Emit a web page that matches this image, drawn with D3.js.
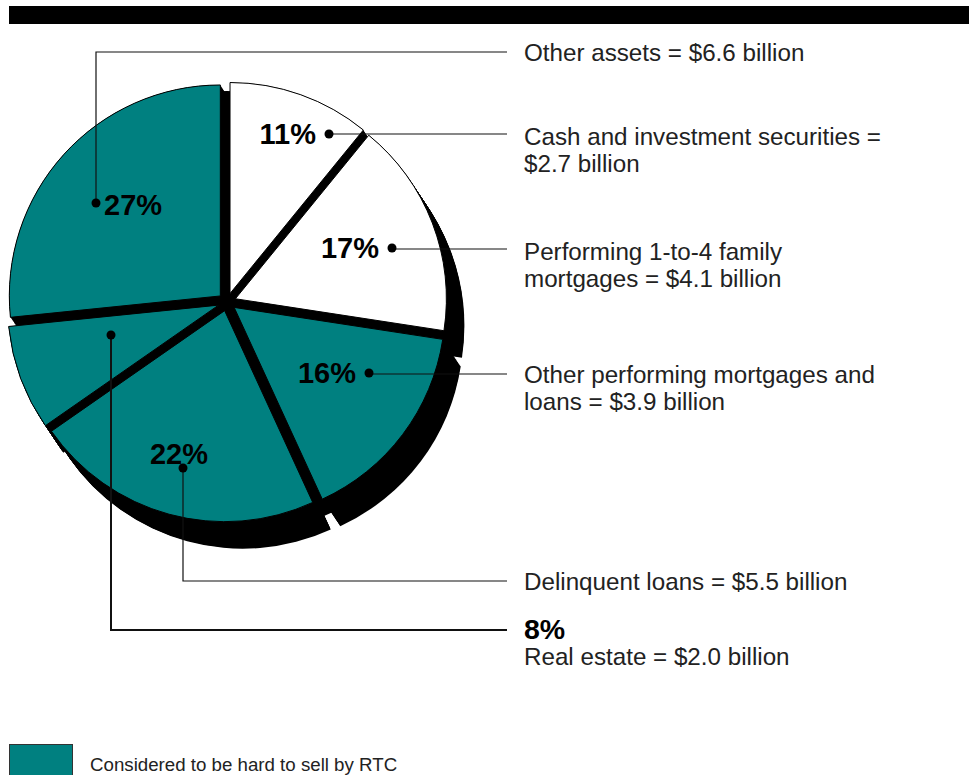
<!DOCTYPE html>
<html>
<head>
<meta charset="utf-8">
<script src="https://cdn.jsdelivr.net/npm/d3@7"></script>
<style>
  html, body { margin: 0; padding: 0; background: #fff; }
  svg { display: block; }
  text { font-family: "Liberation Sans", Arial, Helvetica, sans-serif; }
</style>
</head>
<body>
<svg id="chart" width="969" height="775"></svg>
<script>
// ---------------- data ----------------
const categories = [
  "Cash and investment securities",
  "Performing 1-to-4 family mortgages",
  "Other performing mortgages and loans",
  "Delinquent loans",
  "Real estate",
  "Other assets"
];
const valuesBillions = [2.7, 4.1, 3.9, 5.5, 2.0, 6.6];
const percentLabels = ["11%", "17%", "16%", "22%", "8%", "27%"];
const hardToSell = [false, false, true, true, true, true];
const labelLines = [
  ["Cash and investment securities =", "$2.7 billion"],
  ["Performing 1-to-4 family", "mortgages = $4.1 billion"],
  ["Other performing mortgages and", "loans = $3.9 billion"],
  ["Delinquent loans = $5.5 billion"],
  ["Real estate = $2.0 billion"],
  ["Other assets = $6.6 billion"]
];
const legendText = "Considered to be hard to sell by RTC";

// ---------------- layout (not data) ----------------
const cx = 227, cy = 302, R = 211;
const explode = 9;
const shadow = { dx: 18, dy: 27 };
const teal = "#008080";
// callout layout per slice: dot offset from pie centre, label placement, leader route
const callouts = [
  { dot: [102, -168], pct: "left",  textY: 145, lineY: 134 },
  { dot: [165, -54],  pct: "left",  textY: 260, lineY: 249 },
  { dot: [142, 71],   pct: "left",  textY: 383, lineY: 374 },
  { dot: [-44, 166],  pct: "above", textY: 590, lineY: 581 },
  { dot: [-116, 33],  pct: "right-side", textY: 665, lineY: 630 },
  { dot: [-131, -99], pct: "right", textY: 61,  lineY: 52 }
];
const labelX = 524, lineEndX = 507, lineH = 27;

// ---------------- drawing ----------------
const svg = d3.select("#chart");

// top rule
svg.append("rect").attr("x", 9).attr("y", 6).attr("width", 960).attr("height", 18).attr("fill", "#000");

const color = d3.scaleOrdinal().domain([true, false]).range([teal, "#ffffff"]);
const pie = d3.pie().sort(null).value(d => d)(valuesBillions);
const arc = d3.arc().innerRadius(0).outerRadius(R);

const g = svg.append("g").attr("transform", `translate(${cx},${cy})`);

function offsetOf(d) {
  const a = (d.startAngle + d.endAngle) / 2;
  return [Math.sin(a) * explode, -Math.cos(a) * explode];
}

// extruded black shadow (sweep of each exploded slice)
const steps = 40;
const shadowG = g.append("g");
pie.forEach(d => {
  const [ox, oy] = offsetOf(d);
  for (let i = 0; i <= steps; i++) {
    const t = i / steps;
    shadowG.append("path")
      .attr("d", arc(d))
      .attr("transform", `translate(${ox + t * shadow.dx},${oy + t * shadow.dy})`)
      .attr("fill", "#000");
  }
});
// dark body beneath the gaps
for (let i = 0; i <= 15; i++) {
  const t = 0.75 * i / 15;
  g.append("circle").attr("r", R)
    .attr("transform", `translate(${t * shadow.dx},${t * shadow.dy})`)
    .attr("fill", "#000");
}

// slices
g.selectAll("path.slice").data(pie).join("path")
  .attr("class", "slice")
  .attr("d", arc)
  .attr("transform", d => { const [ox, oy] = offsetOf(d); return `translate(${ox},${oy})`; })
  .attr("fill", (d, i) => color(hardToSell[i]))
  .attr("stroke", "#000")
  .attr("stroke-width", 1);

// callouts
const cg = svg.append("g");
pie.forEach((d, i) => {
  const c = callouts[i];
  const px = cx + c.dot[0], py = cy + c.dot[1];
  let pts;
  if (Math.abs(c.lineY - py) < 4) {
    pts = [[px, c.lineY], [lineEndX, c.lineY]];
  } else {
    pts = [[px, py], [px, c.lineY], [lineEndX, c.lineY]];
  }
  cg.append("path")
    .attr("d", d3.line()(pts))
    .attr("fill", "none")
    .attr("stroke", "#111")
    .attr("stroke-width", i === 4 ? 2 : 1.2);
  cg.append("circle").attr("cx", px).attr("cy", py).attr("r", 4.5).attr("fill", "#000");

  const pctText = percentLabels[i];
  if (c.pct === "left") {
    cg.append("text").attr("x", px - 13).attr("y", py + 10)
      .attr("text-anchor", "end").attr("font-size", 29).attr("font-weight", "bold").text(pctText);
  } else if (c.pct === "right") {
    cg.append("text").attr("x", px + 8).attr("y", py + 12)
      .attr("text-anchor", "start").attr("font-size", 29).attr("font-weight", "bold").text(pctText);
  } else if (c.pct === "above") {
    cg.append("text").attr("x", px - 4).attr("y", py - 4)
      .attr("text-anchor", "middle").attr("font-size", 29).attr("font-weight", "bold").text(pctText);
  } else {
    cg.append("text").attr("x", labelX).attr("y", c.lineY + 9)
      .attr("text-anchor", "start").attr("font-size", 28.5).attr("font-weight", "bold").text(pctText);
  }

  const lines = labelLines[i];
  lines.forEach((ln, k) => {
    cg.append("text").attr("x", labelX).attr("y", c.textY + k * lineH)
      .attr("font-size", 24.2).attr("fill", "#222").text(ln);
  });
});

// legend
svg.append("rect").attr("x", 9.5).attr("y", 744.5).attr("width", 63).attr("height", 40)
  .attr("fill", teal).attr("stroke", "#333").attr("stroke-width", 1);
svg.append("text").attr("x", 90).attr("y", 771).attr("font-size", 18.7).attr("fill", "#222").text(legendText);
</script>
</body>
</html>
